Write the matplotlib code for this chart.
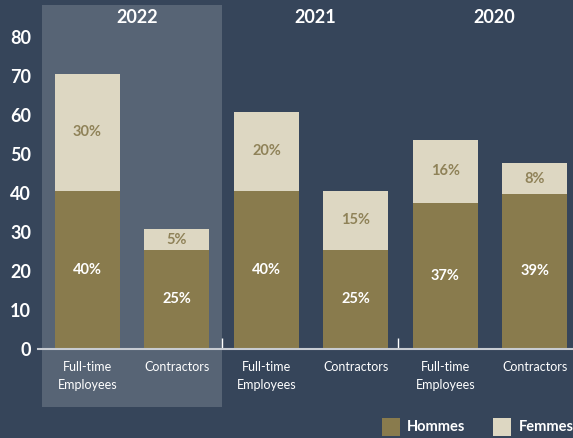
import numpy as np
import matplotlib.pyplot as plt
from matplotlib.patches import Rectangle

# data
years = ['2022', '2021', '2020']
categories = ['Full-time\nEmployees', 'Contractors'] * 3
hommes = [40.6, 25.4, 40.6, 25.4, 37.5, 39.6]
femmes = [30.1, 5.2, 20.1, 15.2, 16.2, 8.0]
hommes_labels = ['40%', '25%', '40%', '25%', '37%', '39%']
femmes_labels = ['30%', '5%', '20%', '15%', '16%', '8%']

BG = '#36455a'
PANEL = '#576475'
OLIVE = '#897b4d'
BEIGE = '#ddd7c2'

plt.rcParams['font.family'] = ['Lato', 'DejaVu Sans']

W, H = 573, 438
fig = plt.figure(figsize=(W / 100, H / 100), dpi=100, facecolor=BG)
ax = fig.add_axes([38 / W, (H - 348.5) / H, 535 / W, 348.5 / H])
ax.set_facecolor(BG)

x = np.arange(len(categories))
ax.set_xlim(-0.553, 5.425)
ax.set_ylim(0, 89.6)

# highlighted 2022 panel
ax.add_patch(Rectangle((-0.508, -15.0), 2.011, 103.3, facecolor=PANEL,
                       edgecolor='none', clip_on=False, zorder=0))

w = 0.726
ax.bar(x, hommes, width=w, color=OLIVE, zorder=2)
ax.bar(x, femmes, width=w, bottom=hommes, color=BEIGE, zorder=2)

for i in range(len(x)):
    ax.text(x[i], hommes[i] / 2, hommes_labels[i], ha='center', va='center',
            color='white', fontsize=10.5, fontweight='bold', zorder=3)
    ax.text(x[i], hommes[i] + femmes[i] / 2, femmes_labels[i], ha='center',
            va='center', color='#8f8258', fontsize=10.5, fontweight='bold', zorder=3)

# year headers
for g, yr in enumerate(years):
    ax.text(2 * g + 0.55, 85.0, yr, ha='center', va='center', color='white',
            fontsize=13, fontweight='bold', clip_on=False)

# group separators
ax.vlines([1.503, 3.47], 0, 2.8, color='white', linewidth=1, zorder=3)

ax.set_yticks(range(0, 90, 10))
ax.set_xticks(x)
ax.set_xticklabels(categories, color='white', fontsize=9, linespacing=1.6)
ax.tick_params(axis='y', length=0, pad=5, labelcolor='white', labelsize=13)
ax.tick_params(axis='x', length=0, pad=9)
for lab in ax.get_yticklabels():
    lab.set_fontweight('bold')

for s in ['top', 'right', 'left']:
    ax.spines[s].set_visible(False)
ax.spines['bottom'].set_color('#c8ccd2')
ax.spines['bottom'].set_linewidth(1.5)
ax.spines['bottom'].set_zorder(4)

# legend
for x0, col, name, tx in [(382, OLIVE, 'Hommes', 407), (493, BEIGE, 'Femmes', 519)]:
    fig.patches.append(Rectangle((x0 / W, (H - 436) / H), 18 / W, 18 / H,
                                 facecolor=col, edgecolor='none',
                                 transform=fig.transFigure, figure=fig))
    fig.text(tx / W, (H - 427) / H, name, ha='left', va='center',
             color='white', fontsize=10.5, fontweight='bold')

fig.savefig('out.png', dpi=100, facecolor=BG)
